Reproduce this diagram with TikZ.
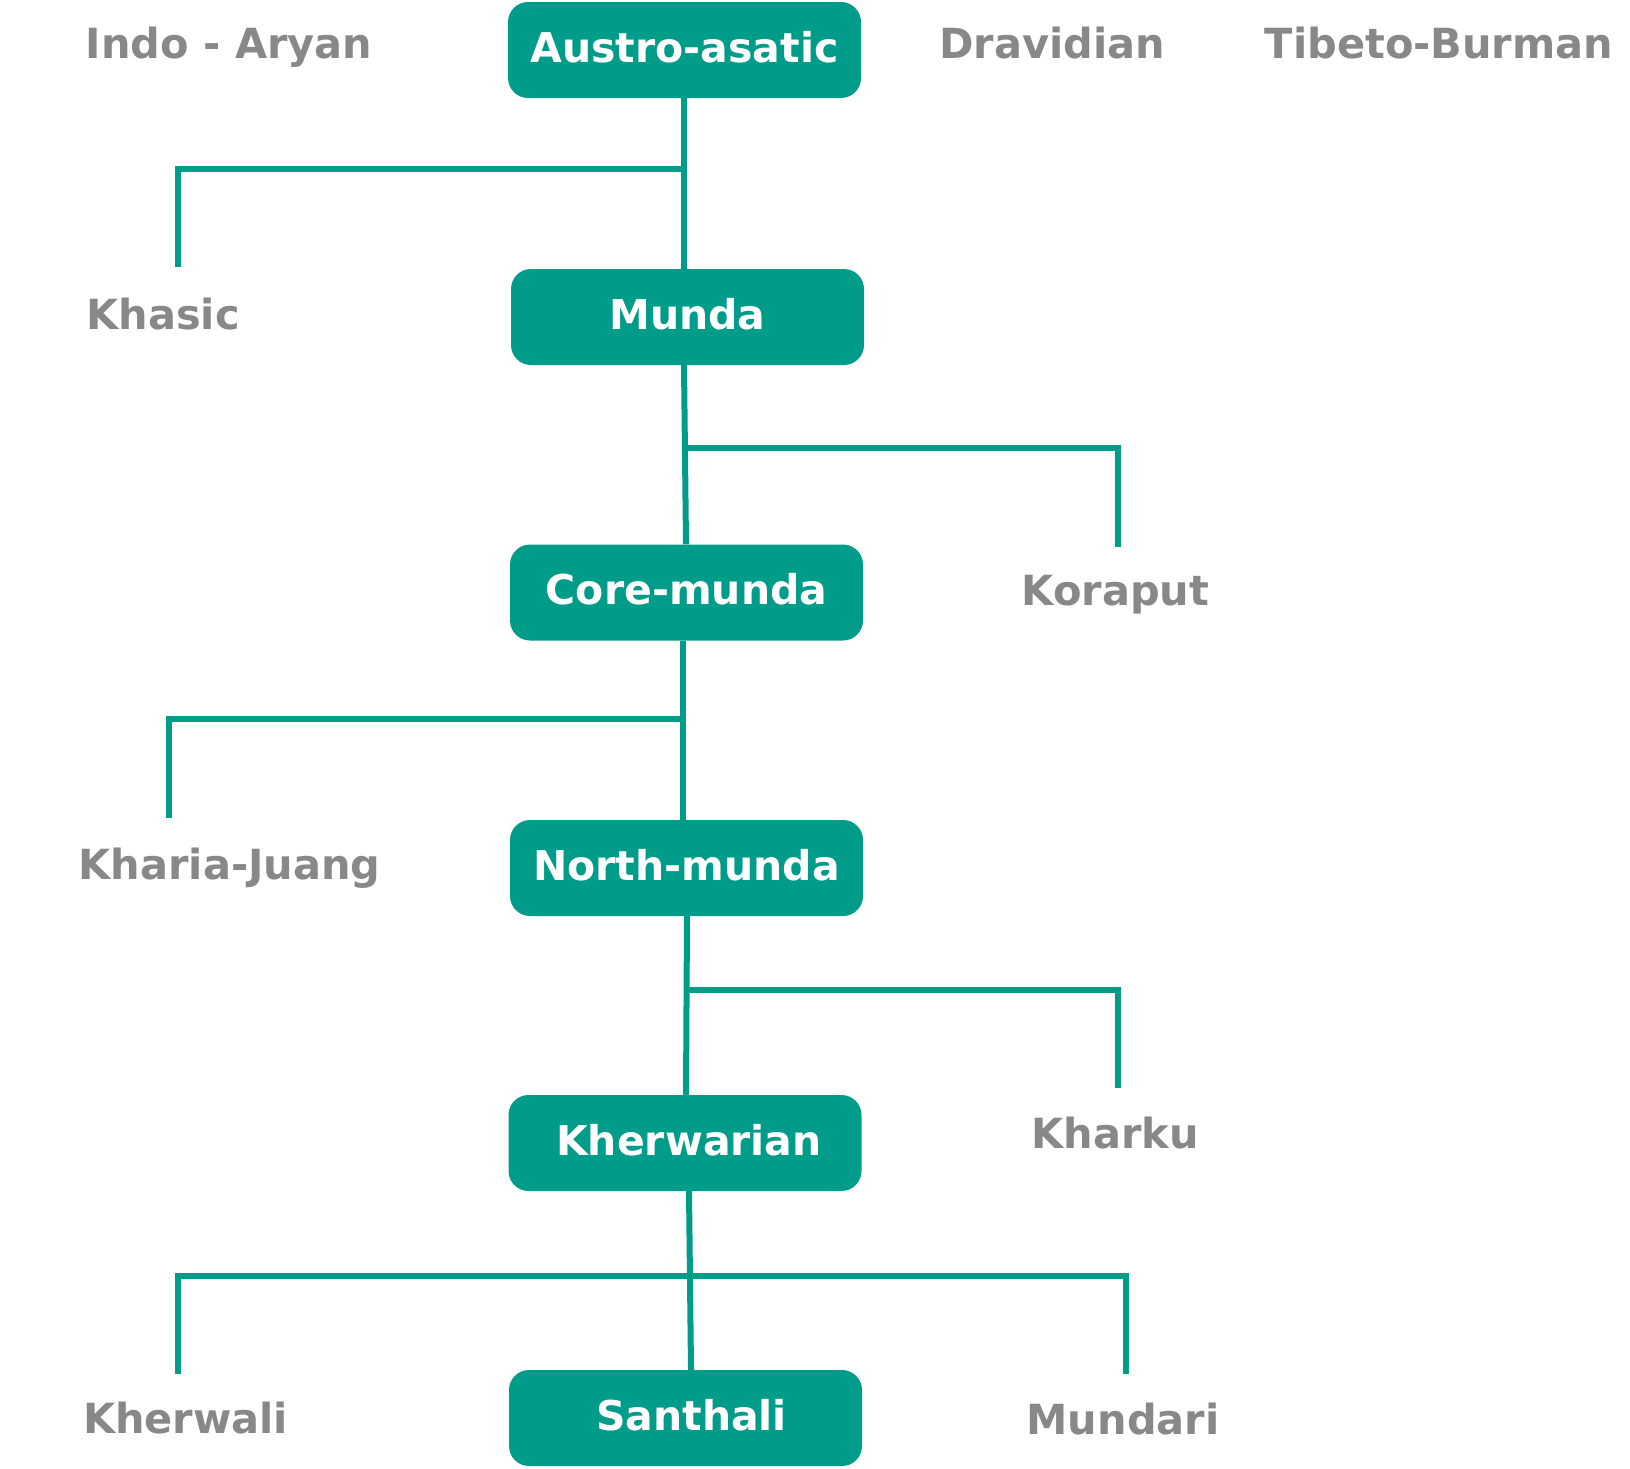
\documentclass[tikz,border=0pt]{standalone}
\usepackage{fontspec}
\setmainfont{DejaVu Sans}
\usetikzlibrary{backgrounds}
\definecolor{teal1}{RGB}{0,156,138}
\definecolor{gray1}{RGB}{136,136,136}
\begin{document}
\begin{tikzpicture}[x=1pt,y=-1pt,
  box/.style={fill=teal1,rounded corners=20pt,minimum width=353pt,minimum height=96pt,inner sep=0pt,
    text=white,text height=30pt,text depth=6pt,font=\fontsize{41}{49}\selectfont\bfseries},
  lbl/.style={inner sep=0pt,text=gray1,text height=30pt,text depth=0pt,font=\fontsize{41.5}{49}\selectfont\bfseries},
  link/.style={draw=teal1,line width=6pt}]
\useasboundingbox (0,0) rectangle (1630,1468);
% boxes
\node[box] (aa) at (684.5,50) {Austro-asatic};
\node[box] (mu) at (687.5,317) {Munda};
\node[box] (cm) at (686.5,592.5) {Core-munda};
\node[box] (nm) at (686.5,868) {North-munda};
\node[box] (kh) at (685,1143) {\hspace*{8pt}Kherwarian};
\node[box] (sa) at (685.5,1418) {\hspace*{12pt}Santhali};
% labels
\node[lbl] (ia) at (229,43.7) {Indo - Aryan};
\node[lbl] (dr) at (1052,43.7) {Dravidian};
\node[lbl] (tb) at (1439,43.7) {Tibeto-Burman};
\node[lbl] (ks) at (163,314) {Khasic};
\node[lbl] (ko) at (1115.5,590) {Koraput};
\node[lbl] (kj) at (229.7,864) {Kharia-Juang};
\node[lbl] (ku) at (1115.4,1133) {Kharku};
\node[lbl] (kw) at (185.6,1418) {Kherwali};
\node[lbl] (md) at (1123,1419) {Mundari};
% junctions and branch ends
\coordinate (j1) at (684,169.4);
\coordinate (e1) at (177.8,267);
\coordinate (j2) at (685,448);
\coordinate (e2) at (1117.5,547);
\coordinate (j3) at (683,719);
\coordinate (e3) at (169.4,818);
\coordinate (j4) at (686.5,989.6);
\coordinate (e4) at (1117.5,1088);
\coordinate (j5) at (690,1275.5);
\coordinate (e5) at (177.8,1374);
\coordinate (e6) at (1125.8,1374);
\begin{scope}[on background layer]
\draw[link] (aa.south -| 684,0) -- (mu.north -| 684,0);
\draw[link] (j1) -| (e1);
\draw[link] (mu.south -| 684,0) -- (cm.north -| 686,0);
\draw[link] (j2) -| (e2);
\draw[link] (cm.south -| 683,0) -- (nm.north -| 683,0);
\draw[link] (j3) -| (e3);
\draw[link] (nm.south -| 687,0) -- (kh.north -| 686,0);
\draw[link] (j4) -| (e4);
\draw[link] (kh.south -| 689,0) -- (sa.north -| 691,0);
\draw[link] (j5) -| (e5);
\draw[link] (j5) -| (e6);
\end{scope}
\end{tikzpicture}
\end{document}
